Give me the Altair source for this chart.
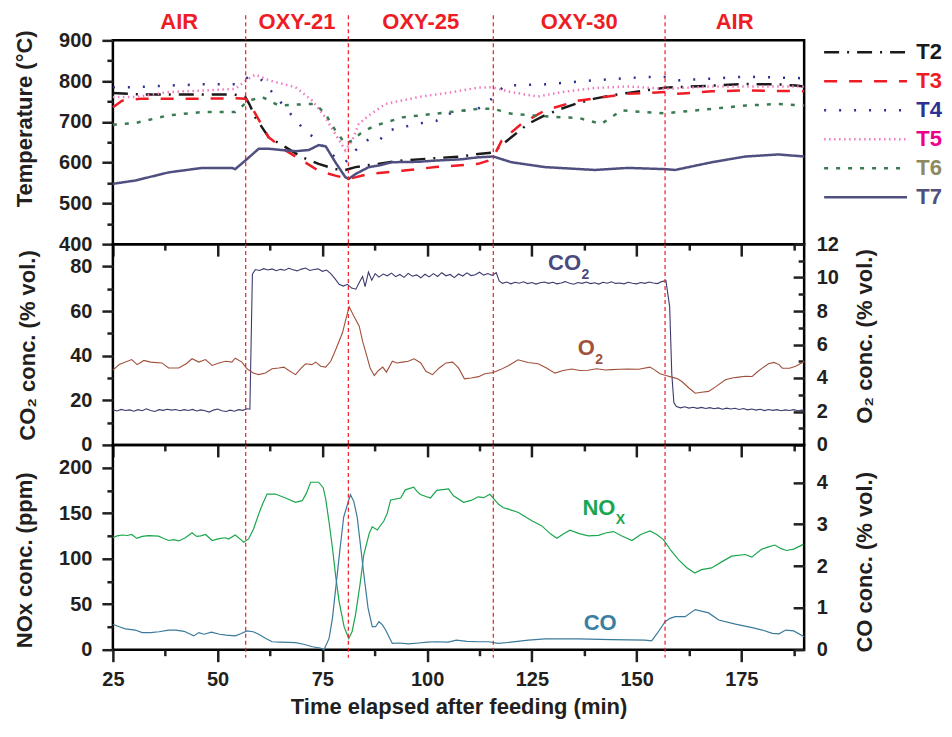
import altair as alt
import pandas as pd

# ---------------- data ----------------
PHASE_EDGES = [25, 56.7, 81.2, 115.8, 156.8, 190]
PHASE_NAMES = ["AIR", "OXY-21", "OXY-25", "OXY-30", "AIR"]
PHASE_BOUNDS = [56.7, 81.2, 115.8, 156.8]

TIME_TICKS = [25, 37.5, 50, 62.5, 75, 87.5, 100, 112.5, 125, 137.5, 150, 162.5, 175, 187.5]
TEMP_TICKS = [400, 450, 500, 550, 600, 650, 700, 750, 800, 850, 900]
CO2_TICKS = [0, 10, 20, 30, 40, 50, 60, 70, 80]
O2_TICKS = [0, 1, 2, 3, 4, 5, 6, 7, 8, 9, 10, 11, 12]
NOX_TICKS = [0, 25, 50, 75, 100, 125, 150, 175, 200]
CO_TICKS = [0, 0.5, 1, 1.5, 2, 2.5, 3, 3.5, 4, 4.5]

SERIES = ["T2", "T3", "T4", "T5", "T6", "T7"]

T2_X = [25, 30, 35, 40, 45, 50, 54, 56.6, 57.5, 59, 62.2, 66.2, 70.2, 74.1, 78.1, 80.5, 82.9, 86.1, 94, 102, 108, 112.2, 115.8, 118, 120.1, 124.1, 128.1, 132, 136, 140, 144, 148, 152, 156.8, 162, 168, 176, 180, 184, 188, 190]
T2_Y = [771, 768, 767, 767, 767, 767, 767, 761, 745, 711, 662, 638, 613, 597, 584, 582, 589, 594, 605, 611, 615, 621, 625, 645, 662, 695, 716, 732, 746, 757, 765, 771, 777, 784, 786, 789, 793, 792, 792, 789, 787]

T3_X = [25, 27.2, 32, 40, 48, 54, 56.6, 57.5, 59, 62.2, 66.2, 70.2, 74.1, 78.1, 81.3, 86.1, 94, 102, 112.2, 114.6, 115.8, 117.8, 122.5, 128.1, 136, 148, 156.8, 160, 168, 176, 190]
T3_Y = [736, 752, 757, 757, 757, 758, 757, 748, 720, 662, 630, 605, 580, 568, 560, 572, 580, 589, 597, 605, 613, 654, 695, 728, 752, 769, 773, 769, 775, 777, 775]

T4_X = [25, 30.3, 38.3, 46.3, 54.2, 57.4, 60.6, 65.4, 67.7, 70.1, 73.3, 75.7, 78.1, 80.5, 82.9, 86.1, 88.5, 90.9, 94.1, 99.7, 102.1, 106.1, 112.2, 116, 118.4, 128.1, 140, 152, 156.8, 160, 168, 176, 190]
T4_Y = [785, 785, 789, 792, 792, 810, 802, 744, 716, 687, 658, 634, 613, 601, 630, 658, 654, 679, 687, 699, 702, 724, 732, 761, 789, 792, 802, 810, 810, 802, 806, 811, 807]

T5_X = [25, 30.3, 38.3, 46.3, 54.2, 57.4, 59, 62.2, 68.6, 72.6, 75.7, 78.1, 80.5, 82.1, 83.7, 86.1, 90.1, 98, 106, 112.2, 115.3, 120.1, 126.5, 132, 140, 148, 156.8, 168, 176, 190]
T5_Y = [761, 761, 773, 777, 781, 806, 816, 802, 785, 752, 711, 670, 630, 654, 695, 716, 744, 761, 773, 784, 785, 773, 762, 773, 783, 787, 781, 787, 787, 787]

T6_X = [25, 30.3, 38.3, 46.3, 54.2, 57.4, 60.6, 64.6, 70.1, 73.3, 75.7, 78.1, 80.5, 82.1, 84.5, 87.7, 94.1, 102, 112.2, 115.8, 120.1, 124.9, 132, 136, 141.6, 146.4, 152, 156.8, 168, 176, 183.9, 190]
T6_Y = [693, 697, 716, 724, 724, 752, 761, 740, 743, 744, 720, 679, 646, 654, 675, 691, 711, 720, 732, 732, 720, 716, 711, 710, 695, 728, 724, 721, 732, 740, 744, 740]

T7_X = [25, 30.3, 38.3, 46.3, 53.4, 54.2, 56.6, 59.8, 62.2, 66.2, 68.6, 71.8, 74.1, 75.8, 78.1, 80.5, 81.3, 82.9, 86.1, 88.5, 91.7, 98, 102, 108, 112.2, 115.8, 120.1, 128.1, 140, 148, 156.8, 159.2, 168, 176, 183.9, 190]
T7_Y = [548, 556, 576, 587, 587, 584, 605, 634, 634, 630, 628, 631, 643, 640, 601, 564, 560, 572, 589, 593, 601, 602, 605, 608, 613, 615, 601, 589, 582, 587, 584, 582, 601, 615, 620, 615]

CO2_X = [25, 26, 27, 28, 29, 30, 31, 32, 33, 34, 35, 36, 37, 38, 39, 40, 41, 42, 43, 44, 45, 46, 47, 48, 49, 50,
         51, 52, 53, 54, 55, 56, 57, 57.7, 58.3, 59, 60, 61, 62, 63, 64, 65, 66, 67, 68, 69, 70, 71, 72, 73, 74,
         75, 76, 77, 78, 79, 80, 81, 82, 83, 84, 84.6, 85.2, 86, 86.8, 87.6, 88.5, 89.5, 90.5, 91.5, 92.5, 93.5,
         94.5, 95.5, 96.5, 97.5, 98.5, 99.5, 100.5, 101.5, 102.5, 103.5, 104.5, 105.5, 106.5, 107.5, 108.5, 109.5,
         110.5, 111.5, 112.5, 113.5, 114.5, 115.5, 116.5, 117.2, 118, 119, 120, 121, 122, 123, 124, 125, 126, 127,
         128, 129, 130, 131, 132, 133, 134, 135, 136, 137, 138, 139, 140, 141, 142, 143, 144, 145, 146, 147, 148,
         149, 150, 151, 152, 153, 154, 155, 156, 157, 157.9, 158.4, 158.9, 159.5, 160.5, 161.5, 162.5, 163.5, 164.5,
         165.5, 166.5, 167.5, 168.5, 169.5, 170.5, 171.5, 172.5, 173.5, 174.5, 175.5, 176.5, 177.5, 178.5, 179.5,
         180.5, 181.5, 182.5, 183.5, 184.5, 185.5, 186.5, 187.5, 188.5, 189.5, 190]
CO2_Y = [15.8, 15.2, 15.9, 15.4, 15.7, 15.1, 15.8, 15.3, 16.2, 15.4, 15.0, 15.8, 15.5, 16.0, 15.6, 15.9, 15.3, 15.8,
         15.4, 15.9, 15.2, 15.7, 15.3, 14.7, 15.6, 16.1, 15.3, 15.0, 15.6, 15.1, 15.8, 15.5, 16.2, 16.0, 76.5, 78.6,
         78.2, 79.0, 78.4, 78.9, 78.1, 78.7, 78.3, 79.2, 78.5, 78.0, 78.8, 79.3, 78.2, 78.6, 78.9, 77.8, 78.4, 76.8,
         74.5, 72.0, 71.2, 72.0, 70.3, 69.8, 73.5, 75.5, 71.0, 77.5, 73.8, 76.8, 75.2, 76.6, 75.8, 77.0, 75.4, 76.4,
         75.1, 76.9, 75.6, 76.2, 74.9, 76.5, 75.3, 76.8, 75.5, 77.2, 75.8, 76.4, 75.0, 76.6, 75.7, 77.1, 75.9, 76.3,
         77.4, 76.1, 76.8, 76.0, 77.2, 73.5, 72.4, 73.0, 72.2, 72.9, 72.5, 73.1, 72.3, 72.8, 72.1, 72.7, 73.0, 72.4,
         72.9, 72.2, 72.6, 73.2, 72.5, 72.0, 72.8, 72.4, 73.0, 72.3, 72.7, 72.1, 72.9, 72.5, 73.1, 72.4, 72.6, 72.2,
         72.9, 72.5, 72.2, 72.8, 72.4, 73.0, 72.6, 72.3, 73.2, 73.6, 62.0, 32.0, 19.0, 17.2, 16.6, 17.1, 16.5, 16.9,
         16.4, 16.8, 16.3, 16.7, 16.2, 16.6, 16.0, 16.5, 16.1, 16.4, 15.9, 16.3, 15.7, 16.1, 15.6, 16.0, 15.4, 15.9,
         15.5, 15.8, 15.3, 15.7, 15.4, 15.8, 15.3, 15.6, 15.5]

O2_X = [25, 26.5, 29.5, 30.8, 32.4, 34, 36.7, 38.3, 40.7, 42.5, 43.9, 45.5, 47.1, 48.7, 50.3, 51.9, 53.4, 54.2, 55.8,
        57, 58.5, 59.8, 61.4, 63, 64.6, 65.8, 67, 68.6, 70, 71, 72.5, 73.4, 74.6, 75.8, 77, 78.2, 79.8, 80.6, 81.4,
        82.5, 83.8, 84.6, 85.4, 86.4, 87.4, 88.4, 89.4, 90.3, 91.7, 92.8, 94.1, 95.5, 96.9, 98.5, 99.7, 101.3, 102.9,
        104.5, 106.1, 107.5, 108.9, 110.5, 112.3, 113.8, 115.8, 117.5, 119.5, 121.7, 123, 124.1, 126.5, 128.5, 130.5,
        132.5, 134.5, 136.5, 138.4, 140.5, 142.5, 144, 146, 148, 150.5, 153.2, 154.2, 155.6, 157, 158.4, 159.8, 160.8,
        162.5, 164, 165.5, 167.2, 169, 171.2, 172.8, 174.4, 176, 177.6, 179, 180, 181.5, 182.8, 184, 184.8, 186.5,
        188, 190]
O2_Y = [4.47, 4.8, 5.1, 4.8, 5.05, 4.95, 4.9, 4.6, 4.6, 4.85, 5.15, 4.95, 5.1, 4.75, 4.9, 5.0, 4.95, 5.18, 4.95,
        4.55, 4.3, 4.2, 4.3, 4.55, 4.6, 4.65, 4.45, 4.2, 4.6, 4.85, 4.8, 4.95, 4.7, 4.65, 5.0, 5.7, 6.7, 7.5, 8.25,
        7.7, 7.1, 6.2, 5.5, 4.6, 4.15, 4.45, 4.65, 4.35, 5.0, 4.9, 4.95, 5.0, 5.15, 4.9, 4.4, 4.2, 4.6, 4.9, 4.95,
        4.6, 3.95, 4.0, 4.08, 4.25, 4.33, 4.5, 4.75, 5.09, 5.0, 4.93, 4.85, 4.6, 4.29, 4.45, 4.54, 4.45, 4.46, 4.55,
        4.48, 4.5, 4.52, 4.54, 4.52, 4.65, 4.5, 4.25, 4.15, 4.05, 3.95, 3.79, 3.4, 3.09, 3.15, 3.2, 3.5, 3.89, 4.0,
        4.05, 4.1, 4.09, 4.4, 4.59, 4.85, 4.93, 4.8, 4.59, 4.58, 4.7, 4.99]

NOX_X = [25, 26, 27.2, 28.4, 29.5, 30.7, 32, 33.5, 35.9, 37, 38.3, 39.5, 40.7, 42.3, 43.9, 45, 46, 47.1, 48.7, 50.3,
         51.9, 52.6, 54.2, 55.3, 56.2, 57.4, 58.6, 59.8, 60.8, 61.8, 63.8, 66.2, 68.6, 70.2, 71.2, 72.2, 74.1, 75.2,
         75.8, 76.6, 77.4, 78.2, 79, 80.2, 81.3, 82.1, 82.9, 84, 84.9, 86.2, 86.9, 88.1, 89.7, 90.5, 91.3, 93.7, 94.8,
         96.8, 97.6, 98.4, 100.8, 102.3, 105.1, 106.3, 108.7, 110.5, 112.2, 113.5, 115, 117, 118.2, 119.4, 121.8, 125,
         127.4, 129.5, 131, 132.5, 134.1, 136.3, 138.5, 140.9, 142.8, 144.5, 146.5, 148.9, 151, 153.2, 154.8, 156.4,
         158.2, 160, 162, 163.9, 165.5, 167.9, 170.3, 172.7, 175.9, 177.5, 179.8, 181.5, 183, 184.5, 185.8, 187.5, 189.8]
NOX_Y = [123, 125, 126, 125.5, 126.6, 122.3, 124.5, 125.3, 124.8, 122.5, 120, 121, 119.5, 123, 128.4, 124.5, 125, 126.6,
         120, 122, 123, 121.5, 126, 122, 118, 121.7, 133, 149, 161, 171, 171, 166.7, 162, 163.7, 172, 184, 184, 178,
         165.5, 140, 112, 80, 52.9, 25, 12.2, 20, 38, 72, 104.6, 128, 135, 131.5, 141.6, 150, 164.5, 166.7, 175.6,
         178.5, 174, 170.5, 166.7, 175, 176.6, 169, 162, 164, 168, 167, 170.7, 160, 156, 154.5, 150.8, 141.6, 136, 127,
         122.4, 127, 131.3, 127.5, 125, 125.7, 128.5, 129.8, 125, 120, 126.5, 130.4, 126.5, 121, 109, 99, 90, 84.3, 88,
         89.8, 96.5, 102.8, 104.6, 101.7, 110.2, 113, 115, 111, 109, 110.5, 115.7]

CO_X = [25, 26.5, 28, 30.3, 32, 34, 36, 38.3, 40, 42, 44.3, 45.5, 46.8, 48.5, 50.5, 52, 54.2, 55.5, 57, 58.5, 59.8,
        61.5, 63, 65, 68.6, 70.5, 72.6, 74.5, 75.4, 76.6, 77.4, 78.2, 79.2, 80.1, 81.7, 82.5, 83.3, 84.1, 84.9, 85.9,
        86.9, 87.7, 88.5, 89.3, 90.1, 91.7, 93.5, 95.5, 98, 100, 102.3, 105, 107, 109.5, 112.3, 114.7, 117, 120, 124.2,
        128.2, 136, 144, 152, 153.6, 155, 156.8, 158, 159.2, 161.6, 164, 167.2, 169.6, 173.6, 177.6, 180, 182.4, 184,
        185.6, 187.5, 190]
CO_Y = [0.61, 0.55, 0.5, 0.47, 0.41, 0.41, 0.43, 0.47, 0.47, 0.44, 0.33, 0.41, 0.37, 0.42, 0.37, 0.35, 0.33, 0.38,
        0.45, 0.43, 0.37, 0.27, 0.19, 0.18, 0.17, 0.13, 0.07, 0.04, 0.0, 0.27, 0.75, 1.48, 2.4, 3.18, 3.71, 3.55,
        3.18, 2.5, 1.8, 1.0, 0.55, 0.55, 0.67, 0.6, 0.47, 0.15, 0.16, 0.14, 0.16, 0.18, 0.19, 0.18, 0.23, 0.2, 0.19,
        0.19, 0.15, 0.18, 0.23, 0.26, 0.26, 0.24, 0.23, 0.21, 0.4, 0.67, 0.75, 0.79, 0.79, 0.96, 0.88, 0.71, 0.61,
        0.53, 0.47, 0.39, 0.38, 0.47, 0.45, 0.31]

# in-plot series labels: main text, subscript, time, value on the panel's left axis
MID_LABELS = ["CO", "O"]
MID_SUBS = ["2", "2"]
MID_LABEL_X = [132.8, 138.0]
MID_LABEL_Y = [81.7, 43.4]
BOT_LABELS = ["NO", "CO"]
BOT_SUBS = ["X", ""]
BOT_LABEL_X = [141.0, 141.3]
BOT_LABEL_Y = [156.0, 28.8]

# ---------------- styles ----------------
W = 692
H1, H2, H3 = 204, 201, 205
FONT = "Liberation Sans"
RED = "#ee1c25"
LINE_COLORS = ["#1a1a1a", "#ee1c25", "#2b3190", "#f07ac0", "#3b7a52", "#4f4f80"]
LABEL_COLORS = ["#1a1a1a", "#ee1c25", "#2e3192", "#ec008c", "#8c8a5e", "#50507c"]
DASHES = [[15, 8, 2, 8], [13, 12], [2, 13], [1.5, 3.5], [4, 8], [1, 0]]
WIDTHS = [2.5, 2.5, 2.2, 1.6, 2.6, 3]
MID_COLORS = ["#4a4a80", "#a0523d"]
MID_SUB_DX = [17, 9]
BOT_COLORS = ["#1aa650", "#3b7fa0"]
BOT_SUB_DX = [17, 17]

X_SCALE = alt.Scale(domain=[25, 190], nice=False, zero=False)


def cond(test, minor, major):
    return {"condition": {"test": test, "value": minor}, "value": major}


def time_axis(show_labels):
    kw = dict(
        values=TIME_TICKS,
        labelExpr="datum.value % 25 == 0 ? datum.label : ''",
        tickSize=cond("datum.value % 25 != 0", 6, 12),
        labelPadding=8,
    )
    if show_labels:
        return alt.Axis(title="Time elapsed after feeding (min)", titleY=57,
                        titleBaseline="middle", **kw)
    return alt.Axis(labels=False, title=None, **kw)


def left_axis(values, step, title, ty, tx=-88):
    return alt.Axis(
        values=values,
        labelExpr=f"datum.value % {step} == 0 ? datum.label : ''",
        tickSize=cond(f"datum.value % {step} != 0", 6, 11),
        labelPadding=10,
        title=title, titleAngle=270, titleX=tx, titleY=ty, titleBaseline="middle",
    )


def right_axis(values, step, title, ty, fmt):
    return alt.Axis(
        orient="right",
        values=values,
        format=fmt,
        labelExpr=f"datum.value % {step} == 0 ? datum.label : ''",
        offset=-11,
        tickSize=11,
        tickDash=cond(f"datum.value % {step} != 0", [0, 5, 6, 40], [40, 0]),
        labelPadding=12,
        title=title, titleAngle=270, titleX=71, titleY=ty, titleBaseline="middle",
    )


def series_labels(texts, subs, xs, ys, colors, sub_dx, domain):
    layers = []
    for t, s, lx, ly, c, dx in zip(texts, subs, xs, ys, colors, sub_dx):
        d = pd.DataFrame({"label": [t], "sub": [s], "time": [lx], "val": [ly]})
        enc = dict(x=alt.X("time:Q", scale=X_SCALE),
                   y=alt.Y("val:Q", scale=alt.Scale(domain=domain, nice=False), axis=None))
        layers.append(alt.Chart(d).mark_text(color=c, fontSize=22, fontWeight="bold").encode(
            text="label:N", **enc))
        if s:
            layers.append(alt.Chart(d).mark_text(color=c, fontSize=14, fontWeight="bold",
                                                 align="left", dx=dx, dy=12).encode(text="sub:N", **enc))
    return layers


def phase_rules(height, extend_bottom):
    return alt.Chart(pd.DataFrame({"time": PHASE_BOUNDS})).mark_rule(
        color=RED, strokeDash=[4, 3], strokeWidth=1.2).encode(
        x=alt.X("time:Q", scale=X_SCALE),
        y=alt.value(-25 if height == H1 else 0),
        y2=alt.value(height + extend_bottom),
    )


# ---------------- tables ----------------
temp_rows = []
for name, xs, ys in zip(SERIES, [T2_X, T3_X, T4_X, T5_X, T6_X, T7_X],
                        [T2_Y, T3_Y, T4_Y, T5_Y, T6_Y, T7_Y]):
    for x, y in zip(xs, ys):
        temp_rows.append({"time": x, "temp": y, "series": name})
temp_df = pd.DataFrame(temp_rows)

phase_df = pd.DataFrame({
    "name": PHASE_NAMES,
    "mid": [(a + b) / 2 for a, b in zip(PHASE_EDGES[:-1], PHASE_EDGES[1:])],
})
legend_df = pd.DataFrame({"series": SERIES})
co2_df = pd.DataFrame({"time": CO2_X, "co2": CO2_Y})
o2_df = pd.DataFrame({"time": O2_X, "o2": O2_Y})
nox_df = pd.DataFrame({"time": NOX_X, "nox": NOX_Y})
co_df = pd.DataFrame({"time": CO_X, "co": CO_Y})

series_color = alt.Color("series:N", scale=alt.Scale(domain=SERIES, range=LINE_COLORS), legend=None)
series_dash = alt.StrokeDash("series:N", scale=alt.Scale(domain=SERIES, range=DASHES), legend=None)
series_width = alt.StrokeWidth("series:N", scale=alt.Scale(domain=SERIES, range=WIDTHS), legend=None)
legend_y = alt.Y("series:N", scale=alt.Scale(type="point", domain=SERIES, range=[12, 157], padding=0), axis=None)

# ---------------- top panel ----------------
temp_lines = alt.Chart(temp_df).mark_line().encode(
    x=alt.X("time:Q", scale=X_SCALE, axis=time_axis(False)),
    y=alt.Y("temp:Q", scale=alt.Scale(domain=[400, 900], nice=False),
            axis=left_axis(TEMP_TICKS, 100, "Temperature (°C)", 78)),
    color=series_color, strokeDash=series_dash, strokeWidth=series_width,
    order=alt.Order("time:Q"),
)
phase_text = alt.Chart(phase_df).mark_text(color=RED, fontSize=22, fontWeight="bold").encode(
    x=alt.X("mid:Q", scale=X_SCALE), y=alt.value(-18), text="name:N"
)
legend_lines = alt.Chart(legend_df).mark_rule().encode(
    x=alt.value(712), x2=alt.value(795), y=legend_y,
    color=series_color, strokeDash=series_dash, strokeWidth=series_width,
)
legend_text = alt.Chart(legend_df).mark_text(align="right", fontSize=22, fontWeight="bold").encode(
    x=alt.value(830), y=legend_y, text="series:N",
    fill=alt.Fill("series:N", scale=alt.Scale(domain=SERIES, range=LABEL_COLORS), legend=None),
)
top = alt.layer(temp_lines, phase_rules(H1, 0), phase_text, legend_lines, legend_text).resolve_scale(
    y="independent").properties(width=W, height=H1)

# ---------------- middle panel ----------------
co2_line = alt.Chart(co2_df).mark_line(color="#3b3b6e", strokeWidth=1.1).encode(
    x=alt.X("time:Q", scale=X_SCALE, axis=time_axis(False)),
    y=alt.Y("co2:Q", scale=alt.Scale(domain=[0, 90], nice=False),
            axis=left_axis(CO2_TICKS, 20, "CO₂ conc. (% vol.)", 101, -85)),
)
o2_line = alt.Chart(o2_df).mark_line(color="#a0503a", strokeWidth=1.1).encode(
    x=alt.X("time:Q", scale=X_SCALE),
    y=alt.Y("o2:Q", scale=alt.Scale(domain=[0, 12], nice=False),
            axis=right_axis(O2_TICKS, 2, "O₂ conc. (% vol.)", 92, "d")),
)
mid_layers = [co2_line, o2_line, phase_rules(H2, 0)] + series_labels(
    MID_LABELS, MID_SUBS, MID_LABEL_X, MID_LABEL_Y, MID_COLORS, MID_SUB_DX, [0, 90])
middle = alt.layer(*mid_layers).resolve_scale(y="independent").properties(width=W, height=H2)

# ---------------- bottom panel ----------------
nox_line = alt.Chart(nox_df).mark_line(color="#1aa64c", strokeWidth=1.2).encode(
    x=alt.X("time:Q", scale=X_SCALE, axis=time_axis(True)),
    y=alt.Y("nox:Q", scale=alt.Scale(domain=[0, 225], nice=False),
            axis=left_axis(NOX_TICKS, 50, "NOx conc. (ppm)", 115)),
)
co_line = alt.Chart(co_df).mark_line(color="#3a7a9a", strokeWidth=1.2).encode(
    x=alt.X("time:Q", scale=X_SCALE),
    y=alt.Y("co:Q", scale=alt.Scale(domain=[0, 4.9], nice=False),
            axis=right_axis(CO_TICKS, 1, "CO conc. (% vol.)", 117, "d")),
)
bot_layers = [nox_line, co_line, phase_rules(H3, 8)] + series_labels(
    BOT_LABELS, BOT_SUBS, BOT_LABEL_X, BOT_LABEL_Y, BOT_COLORS, BOT_SUB_DX, [0, 225])
bottom = alt.layer(*bot_layers).resolve_scale(y="independent").properties(width=W, height=H3)

chart = alt.vconcat(top, middle, bottom, spacing=0, bounds="flush").properties(
    padding={"left": 4, "top": 1, "right": 0, "bottom": 0}
).configure(font=FONT).configure_view(
    stroke="black", strokeWidth=2.5
).configure_axis(
    domain=False, grid=False, tickColor="#231f20", tickWidth=2.5,
    labelFont=FONT, labelFontSize=20, labelFontWeight="bold", labelColor="#231f20",
    labelFlush=False, labelOverlap=False,
    titleFont=FONT, titleFontSize=22, titleFontWeight="bold", titleColor="#231f20",
)

chart.save("out.html", embed_options={"renderer": "svg", "actions": False})
